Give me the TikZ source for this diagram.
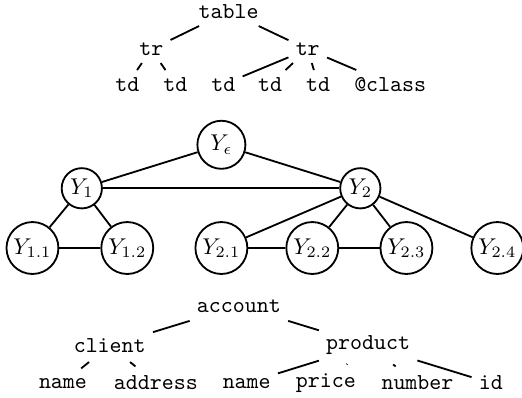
\documentclass[tikz,border=0pt]{standalone}
\usepackage{amsmath}
\usepackage{tikz}
\usetikzlibrary{positioning}

\begin{document}
\begin{tikzpicture}[
        tag/.style={font=\ttfamily, inner xsep=3pt, inner ysep=3pt},
        field/.style={tag, inner ysep=4pt},
        var/.style={circle, draw=black, thick, inner sep=1pt, minimum size=0.62cm},
        edge/.style={thick}
    ]
    \useasboundingbox (0,0) rectangle (8.04,-6.12);

    % html tree
    \node[tag] (table) at (3.52,-0.18) {table};
    \node[tag] (trA) at (2.33,-0.76) {tr};
    \node[tag] (trB) at (4.74,-0.76) {tr};
    \node[tag] (tdA) at (1.96,-1.30) {td};
    \node[tag] (tdB) at (2.70,-1.30) {td};
    \node[tag] (tdC) at (3.44,-1.30) {td};
    \node[tag] (tdD) at (4.16,-1.30) {td};
    \node[tag] (tdE) at (4.90,-1.30) {td};
    \node[tag] (cls) at (6.01,-1.30) {@class};

    \draw[edge] (table) -- (trA);
    \draw[edge] (table) -- (trB);
    \draw[edge] (trA) -- (tdA);
    \draw[edge] (trA) -- (tdB);
    \draw[edge] (trB) -- (tdC);
    \draw[edge] (trB) -- (tdD);
    \draw[edge] (trB) -- (tdE);
    \draw[edge] (trB) -- (cls);

    % variables
    \node[var, minimum size=0.74cm] (Ye) at (3.41,-2.23) {$Y_\epsilon$};
    \node[var] (Y1) at (1.26,-2.90) {$Y_1$};
    \node[var] (Y2) at (5.55,-2.90) {$Y_2$};
    \node[var, minimum size=0.80cm] (Y11) at (0.50,-3.82) {$Y_{1.1}$};
    \node[var, minimum size=0.80cm] (Y12) at (1.96,-3.82) {$Y_{1.2}$};
    \node[var, minimum size=0.80cm] (Y21) at (3.41,-3.82) {$Y_{2.1}$};
    \node[var, minimum size=0.80cm] (Y22) at (4.81,-3.82) {$Y_{2.2}$};
    \node[var, minimum size=0.80cm] (Y23) at (6.26,-3.82) {$Y_{2.3}$};
    \node[var, minimum size=0.80cm] (Y24) at (7.66,-3.82) {$Y_{2.4}$};

    \draw[edge] (Ye) -- (Y1);
    \draw[edge] (Ye) -- (Y2);
    \draw[edge] (Y1) -- (Y2);
    \draw[edge] (Y1) -- (Y11);
    \draw[edge] (Y1) -- (Y12);
    \draw[edge] (Y11) -- (Y12);
    \draw[edge] (Y2) -- (Y21);
    \draw[edge] (Y2) -- (Y22);
    \draw[edge] (Y2) -- (Y23);
    \draw[edge] (Y2) -- (Y24);
    \draw[edge] (Y21) -- (Y22);
    \draw[edge] (Y22) -- (Y23);

    % xml tree
    \node[field] (account) at (3.68,-4.71) {account};
    \node[field] (client) at (1.69,-5.32) {client};
    \node[field] (product) at (5.67,-5.32) {product};
    \node[field] (cname) at (0.97,-5.90) {name};
    \node[field] (address) at (2.40,-5.90) {address};
    \node[field] (pname) at (3.80,-5.90) {name};
    \node[field] (price) at (5.02,-5.90) {price};
    \node[field] (number) at (6.43,-5.90) {number};
    \node[field] (id) at (7.56,-5.90) {id};

    \draw[edge] (account) -- (client);
    \draw[edge] (account) -- (product);
    \draw[edge] (client) -- (cname);
    \draw[edge] (client) -- (address);
    \draw[edge] (product) -- (pname);
    \draw[edge] (product) -- (price);
    \draw[edge] (product) -- (number);
    \draw[edge] (product) -- (id);

\end{tikzpicture}
\end{document}
